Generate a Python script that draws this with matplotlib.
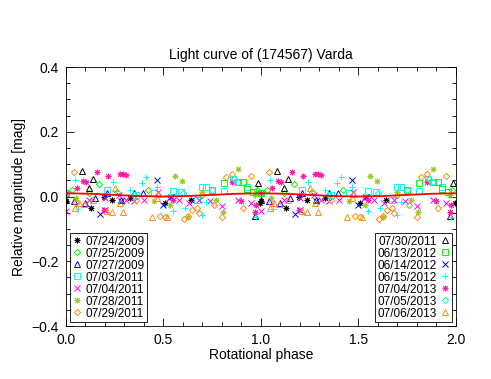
import matplotlib
matplotlib.use("Agg")
import matplotlib.pyplot as plt
import numpy as np

plt.rcParams['font.family'] = ['Liberation Sans', 'DejaVu Sans']

# phase (0-1) and relative magnitude for each night
dates = ["07/24/2009", "07/25/2009", "07/27/2009", "07/03/2011", "07/04/2011",
         "07/28/2011", "07/29/2011", "07/30/2011", "06/13/2012", "06/14/2012",
         "06/15/2012", "07/04/2013", "07/05/2013", "07/06/2013"]

ph_0724_2009 = [0.0, 0.128, 0.195, 0.234, 0.51, 0.995, 0.33, 0.64]
mag_0724_2009 = [-0.015, -0.035, 0.0, -0.01, -0.02, -0.02, -0.005, -0.01]

ph_0725_2009 = [0.03, 0.17, 0.26, 0.42, 0.70, 0.98, 0.12, 0.55]
mag_0725_2009 = [0.02, 0.038, 0.015, 0.02, 0.005, 0.02, 0.01, 0.0]

ph_0727_2009 = [0.097, 0.21, 0.35, 0.393, 0.04, 0.15, 0.28]
mag_0727_2009 = [-0.021, 0.01, 0.01, 0.01, -0.015, -0.005, -0.01]

ph_0703_2011 = [0.21, 0.36, 0.45, 0.55, 0.59, 0.67, 0.70, 0.72, 0.81, 0.855, 0.93]
mag_0703_2011 = [0.02, 0.005, 0.01, 0.018, 0.015, -0.011, 0.03, 0.03, 0.018, 0.053, 0.03]

ph_0704_2011 = [0.0, 0.12, 0.2, 0.27, 0.31, 0.35, 0.40, 0.47, 0.53, 0.58, 0.63,
                0.68, 0.74, 0.8, 0.88, 0.95]
mag_0704_2011 = [-0.045, -0.01, -0.005, 0.005, -0.01, -0.015, -0.012, 0.015, -0.005,
                 -0.012, -0.02, -0.01, -0.015, -0.03, -0.01, -0.02]

ph_0728_2011 = [0.593, 0.56, 0.88, 0.807, 0.627, 0.533, 0.77, 0.70, 0.97, 0.05, 0.45]
mag_0728_2011 = [0.049, 0.063, 0.084, -0.047, -0.064, -0.026, -0.011, 0.015, 0.005,
                 -0.005, -0.015]

ph_0729_2011 = [0.041, 0.05, 0.48, 0.51, 0.605, 0.627, 0.648, 0.67, 0.68, 0.76, 0.80,
                0.82, 0.853, 0.906, 0.949, 0.36]
mag_0729_2011 = [0.075, -0.021, -0.06, -0.062, -0.07, -0.06, -0.042, -0.036, -0.05,
                 -0.026, -0.064, 0.061, 0.068, -0.036, 0.064, -0.01]

ph_0730_2011 = [0.084, 0.14, 0.12, 0.97, 0.985, 0.0]
mag_0730_2011 = [0.080, 0.054, 0.027, -0.06, 0.042, -0.01]

ph_0613_2012 = [0.81, 0.88, 0.91, 0.926, 0.0, 0.75, 0.96]
mag_0613_2012 = [0.043, 0.046, 0.046, 0.022, 0.01, 0.02, 0.015]

ph_0614_2012 = [0.465, 0.174, 0.2, 0.50, 0.28, 0.54]
mag_0614_2012 = [0.051, -0.054, -0.042, -0.026, -0.013, 0.0]

ph_0615_2012 = [0.046, 0.243, 0.41, 0.39, 0.063, 0.61, 0.70, 0.72, 0.973, 0.465, 0.55, 0.33]
mag_0615_2012 = [0.051, 0.046, 0.059, 0.043, -0.04, -0.036, -0.057, -0.016, -0.062,
                 0.03, -0.045, 0.02]

ph_0704_2013 = [0.16, 0.217, 0.277, 0.29, 0.31, 0.085, 0.103, 0.055, 0.0, 0.97, 0.197,
                0.974, 0.85, 0.55, 0.9]
mag_0704_2013 = [0.075, 0.064, 0.068, 0.068, 0.066, 0.048, 0.046, 0.027, 0.01, -0.047,
                 -0.042, -0.026, 0.045, -0.01, -0.015]

ph_0705_2013 = [0.86, 0.88, 0.35, 0.6, 0.75]
mag_0705_2013 = [0.053, 0.045, 0.005, 0.01, 0.02]

ph_0706_2013 = [0.046, 0.068, 0.094, 0.14, 0.21, 0.234, 0.277, 0.294, 0.25, 0.44,
                0.516, 0.47, 0.465]
mag_0706_2013 = [-0.036, -0.021, -0.024, -0.011, -0.044, -0.047, -0.021, -0.047, 0.027,
                 -0.062, -0.062, 0.008, -0.006]

phases = [ph_0724_2009, ph_0725_2009, ph_0727_2009, ph_0703_2011, ph_0704_2011,
          ph_0728_2011, ph_0729_2011, ph_0730_2011, ph_0613_2012, ph_0614_2012,
          ph_0615_2012, ph_0704_2013, ph_0705_2013, ph_0706_2013]
mags = [mag_0724_2009, mag_0725_2009, mag_0727_2009, mag_0703_2011, mag_0704_2011,
        mag_0728_2011, mag_0729_2011, mag_0730_2011, mag_0613_2012, mag_0614_2012,
        mag_0615_2012, mag_0704_2013, mag_0705_2013, mag_0706_2013]

# fitted curve
fit_phase = [0.0, 0.125, 0.25, 0.375, 0.5, 0.625, 0.75, 0.875, 1.0,
             1.125, 1.25, 1.375, 1.5, 1.625, 1.75, 1.875, 2.0]
fit_mag = [0.010, 0.0085, 0.005, 0.0015, 0.0, 0.0015, 0.005, 0.0085, 0.010,
           0.0085, 0.005, 0.0015, 0.0, 0.0015, 0.005, 0.0085, 0.010]

asterisk = (8, 2, 0)
markers = [asterisk, 'D', '^', 's', 'x', asterisk, 'D',
           '^', 's', 'x', '+', asterisk, 'D', '^']
colors = ['black', '#00ff00', '#0000ff', '#00ffff', '#ff00ff', '#99cc22', '#ff8c1a',
          'black', '#00ff00', '#0000ff', '#00ffff', '#ff1aaa', '#00ffcc', '#ff8c1a']
sizes = [4, 3.2, 4, 4.2, 4, 4, 3.2, 4, 4.2, 4, 5, 4, 3.2, 4]

fig = plt.figure(figsize=(4.91, 3.79), dpi=100)
ax = fig.add_axes([0.1344, 0.1398, 0.7943, 0.6834])

handles = []
for i in range(len(dates)):
    p = np.array(phases[i])
    m = np.array(mags[i])
    h, = ax.plot(np.concatenate([p, p + 1]), np.concatenate([m, m]),
                 linestyle='none', marker=markers[i], markersize=sizes[i],
                 markerfacecolor='none', markeredgecolor=colors[i],
                 markeredgewidth=0.7, label=dates[i])
    handles.append(h)

ax.plot(fit_phase, fit_mag, color='red', linewidth=1.3, zorder=5)

ax.set_xlim(0, 2)
ax.set_ylim(-0.4, 0.4)
ax.set_xticks([0.0, 0.5, 1.0, 1.5, 2.0])
ax.set_yticks([-0.4, -0.2, 0.0, 0.2, 0.4])
ax.set_xticklabels(["0.0", "0.5", "1.0", "1.5", "2.0"])
ax.set_yticklabels(["\u22120.4", "\u22120.2", "0.0", "0.2", "0.4"])
ax.xaxis.set_minor_locator(plt.MultipleLocator(0.1))
ax.yaxis.set_minor_locator(plt.MultipleLocator(0.05))
ax.tick_params(which='both', direction='in', top=True, right=True,
               labelsize=10, width=0.6, pad=5)
ax.tick_params(which='major', length=6)
ax.tick_params(which='minor', length=3)
for s in ax.spines.values():
    s.set_linewidth(0.6)

ax.set_title("Light curve of (174567) Varda", fontsize=10, pad=6)
ax.set_xlabel("Rotational phase", fontsize=10, labelpad=1)
ax.set_ylabel("Relative magnitude [mag]", fontsize=10)

leg1 = ax.legend(handles=handles[:7], loc='lower left', fontsize=8.5,
                 frameon=True, fancybox=False, borderpad=0.2, labelspacing=0.0,
                 handlelength=0.8, handletextpad=0.3, borderaxespad=0.35,
                 edgecolor='black', framealpha=1)
leg1.get_frame().set_linewidth(0.6)
ax.add_artist(leg1)
leg2 = ax.legend(handles=handles[7:], loc='lower right', fontsize=8.5,
                 frameon=True, fancybox=False, borderpad=0.2, labelspacing=0.0,
                 handlelength=0.8, handletextpad=0.3, borderaxespad=0.35,
                 edgecolor='black', framealpha=1, markerfirst=False)
leg2.get_frame().set_linewidth(0.6)

fig.savefig("out.png", dpi=100)
